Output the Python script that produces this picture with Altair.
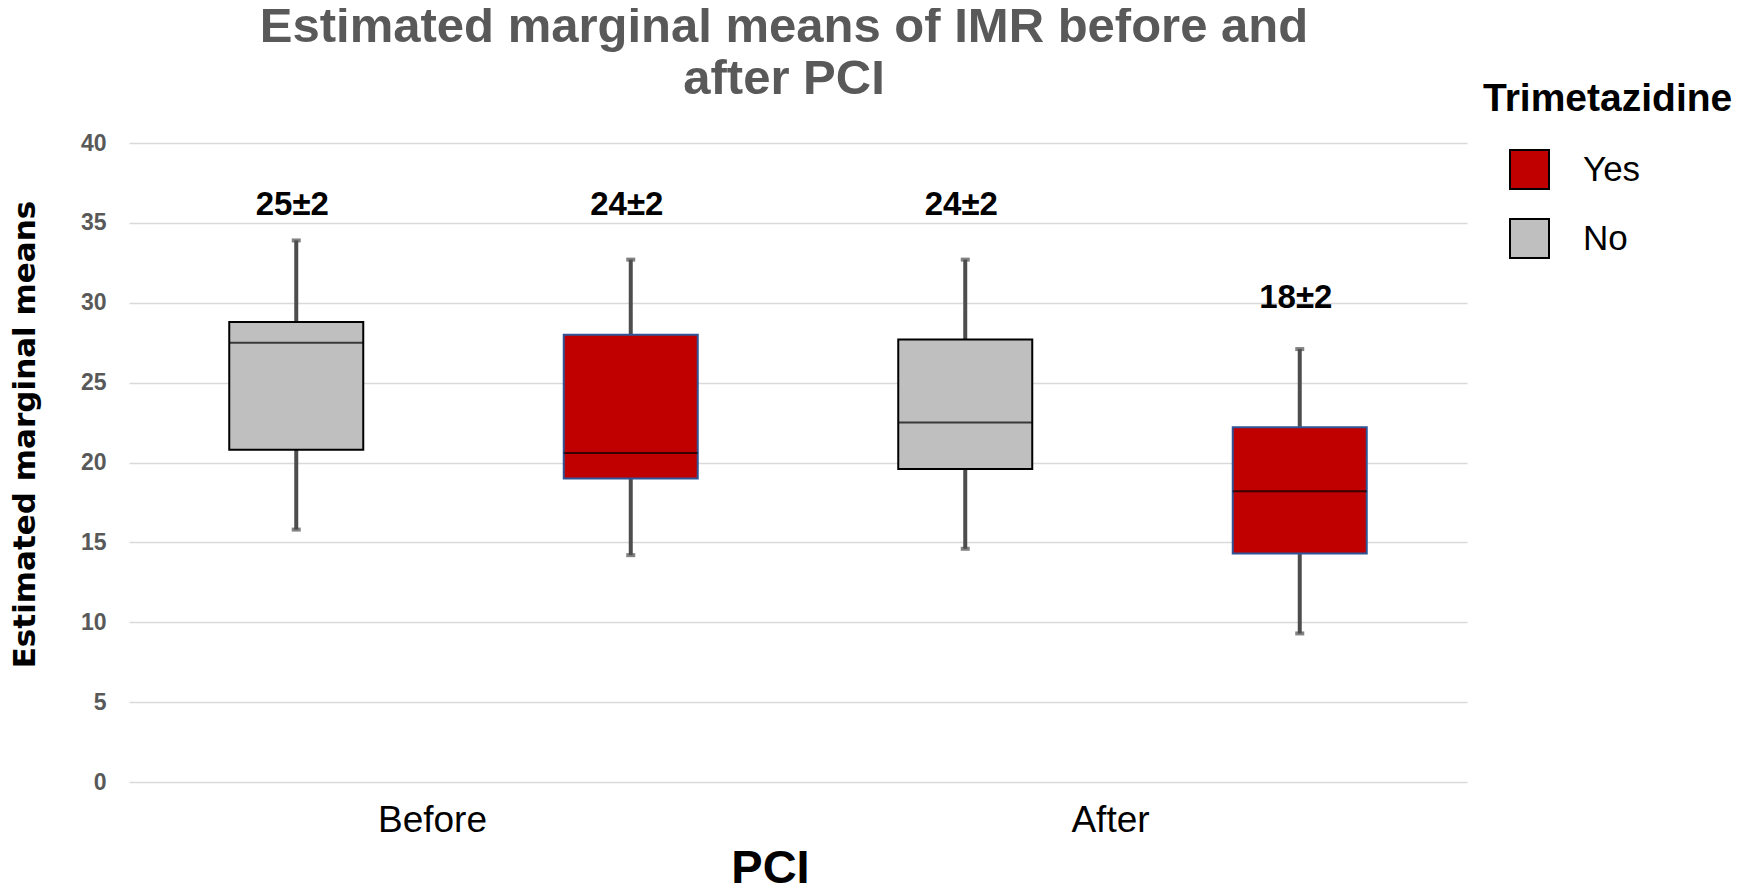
import altair as alt
import pandas as pd

pci = ["Before", "Before", "After", "After"]
group = ["No", "Yes", "No", "Yes"]
low = [15.8, 14.2, 14.6, 9.3]
q1 = [20.8, 19.0, 19.6, 14.3]
median = [27.5, 20.6, 22.5, 18.2]
q3 = [28.8, 28.0, 27.7, 22.2]
high = [33.9, 32.7, 32.7, 27.1]
labels = ["25±2", "24±2", "24±2", "18±2"]
label_y = [36.1, 36.1, 36.1, 30.3]

df = pd.DataFrame(dict(pci=pci, group=group, low=low, q1=q1, median=median,
                       q3=q3, high=high, label=labels, label_y=label_y))

FONT = "Liberation Sans"

x = alt.X("pci:N", sort=["Before", "After"],
          scale=alt.Scale(paddingInner=0, paddingOuter=0),
          axis=alt.Axis(title="PCI", ticks=False, domain=False, grid=False,
                        labelAngle=0, labelFont=FONT, labelFontSize=37,
                        labelColor="black", labelPadding=38, labelBaseline="middle",
                        labelOffset={"condition": {"test": "datum.value == 'Before'", "value": -31},
                                     "value": -22},
                        titleFont=FONT, titleFontSize=47, titleFontWeight="bold",
                        titleColor="black", titleX=641, titleY=86,
                        titleBaseline="middle", titleAlign="center"))
xo = alt.XOffset("group:N", sort=["No", "Yes"],
                 scale=alt.Scale(paddingInner=0, paddingOuter=0))

yax = alt.Axis(title="Estimated marginal means", values=[0, 5, 10, 15, 20, 25, 30, 35, 40],
               ticks=False, domain=False, gridColor="#D9D9D9", gridWidth=1.5,
               labelFont=FONT, labelFontSize=23, labelFontWeight="bold",
               labelColor="#595959", labelPadding=23,
               titleFont="DejaVu Sans", titleFontSize=31, titleFontWeight="bold",
               titleColor="black", titleX=-104, titleY=291, titleAngle=270,
               titleBaseline="middle", titleAlign="center")

base = alt.Chart(df)

whisk_lo = base.mark_rule(color="#4D4D4D", strokeWidth=4).encode(
    x=x, xOffset=xo,
    y=alt.Y("low:Q", scale=alt.Scale(domain=[0, 40]), axis=yax),
    y2="q1:Q")
whisk_hi = base.mark_rule(color="#4D4D4D", strokeWidth=4).encode(
    x=x, xOffset=xo, y="q3:Q", y2="high:Q")
cap_lo = base.mark_tick(color="#4D4D4D", size=9, thickness=4).encode(
    x=x, xOffset=xo, y="low:Q")
cap_hi = base.mark_tick(color="#4D4D4D", size=9, thickness=4).encode(
    x=x, xOffset=xo, y="high:Q")

box = base.mark_bar(size=134, strokeWidth=2).encode(
    x=x, xOffset=xo, y="q1:Q", y2="q3:Q",
    fill=alt.Fill("group:N",
                  scale=alt.Scale(domain=["Yes", "No"], range=["#C00000", "#BFBFBF"]),
                  legend=alt.Legend(title="Trimetazidine", orient="none",
                                    legendX=1354, legendY=-63,
                                    titleFont=FONT, titleFontSize=39,
                                    titleFontWeight="bold", titleColor="black",
                                    titlePadding=30, titleLimit=500,
                                    labelFont=FONT, labelFontSize=35,
                                    labelColor="black", labelOffset=33,
                                    symbolType="square", symbolSize=1521,
                                    symbolOffset=26,
                                    symbolStrokeColor="black", symbolStrokeWidth=2,
                                    rowPadding=22)),
    stroke=alt.condition(alt.datum.group == "Yes", alt.value("#2F5597"), alt.value("#000000")))

med = base.mark_tick(color="black", size=134, thickness=2).encode(
    x=x, xOffset=xo, y="median:Q")

txt = base.mark_text(font=FONT, fontSize=33, fontWeight="bold", color="black",
                     baseline="middle", dx=-4).encode(
    x=x, xOffset=xo, y="label_y:Q", text="label:N")

chart = alt.layer(whisk_lo, whisk_hi, cap_lo, cap_hi, box, med, txt).properties(
    width=1338, height=639,
    autosize=alt.AutoSizeParams(type="none"),
    padding={"left": 121, "top": 135, "right": 274, "bottom": 107},
    title=alt.TitleParams(["Estimated marginal means of IMR before and", "after PCI"],
                          font=FONT, fontSize=49, fontWeight="bold", color="#595959",
                          anchor="middle", frame="group", dx=-14, dy=65, offset=41,
                          lineHeight=52)
).configure_view(stroke=None)

chart.save("out.html", embed_options={"renderer": "svg", "actions": False})
